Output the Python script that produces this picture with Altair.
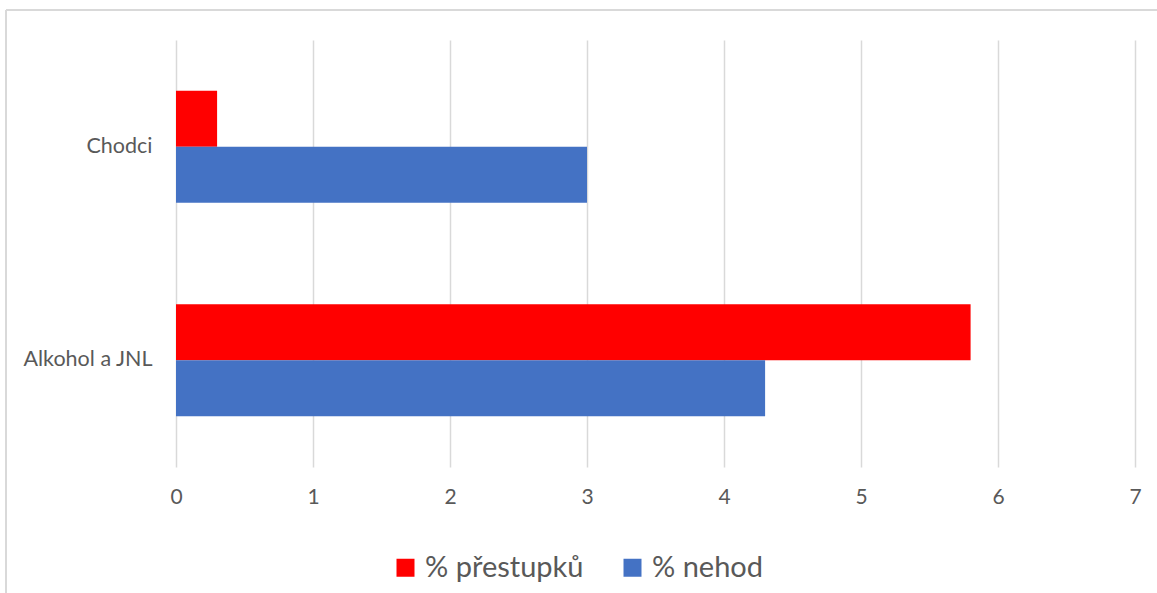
import altair as alt
import pandas as pd

categories = ["Chodci", "Alkohol a JNL"]
series = ["% přestupků", "% nehod"]
prestupky = [0.3, 5.8]
nehody = [3.0, 4.3]
colors = ["#FF0000", "#4472C4"]

rows = []
for i, c in enumerate(categories):
    rows.append({"kategorie": c, "serie": series[0], "hodnota": prestupky[i]})
    rows.append({"kategorie": c, "serie": series[1], "hodnota": nehody[i]})
df = pd.DataFrame(rows)

FONT = "Lato"
GRAY = "#595959"

bars = alt.Chart(df).mark_bar().encode(
    x=alt.X("hodnota:Q",
            scale=alt.Scale(domain=[0, 7], nice=False),
            axis=alt.Axis(values=list(range(8)), title=None, domain=False, ticks=False,
                          grid=True, gridColor="#D9D9D9", gridWidth=1.5,
                          labelFlush=False,
                          labelFont=FONT, labelFontSize=21, labelColor=GRAY,
                          labelPadding=19)),
    y=alt.Y("kategorie:N", sort=categories,
            scale=alt.Scale(paddingInner=0.4754, paddingOuter=0.2377),
            axis=alt.Axis(title=None, domain=False, ticks=False, grid=False,
                          labelFont=FONT, labelFontSize=21.5, labelColor=GRAY,
                          labelPadding=24)),
    yOffset=alt.YOffset("serie:N", sort=series),
    color=alt.Color("serie:N", sort=series,
                    scale=alt.Scale(domain=series, range=colors),
                    legend=alt.Legend(title=None, orient="none", direction="horizontal",
                                      legendX=215, legendY=513,
                                      symbolType="square", symbolSize=324,
                                      symbolStrokeWidth=0, labelLimit=400,
                                      labelFont=FONT, labelFontSize=29, labelColor=GRAY,
                                      labelOffset=5, columnPadding=34)),
)

frame = pd.DataFrame({"a": [0]})
top_line = alt.Chart(frame).mark_rule(color="#D9D9D9", strokeWidth=2).encode(
    x=alt.value(-170), x2=alt.value(990), y=alt.value(-30))
left_line = alt.Chart(frame).mark_rule(color="#D9D9D9", strokeWidth=2).encode(
    x=alt.value(-170), y=alt.value(-30), y2=alt.value(560))

chart = alt.layer(bars, top_line, left_line).properties(
    width=959, height=427,
    autosize=alt.AutoSizeParams(type="none"),
    padding={"left": 176, "top": 40, "right": 22, "bottom": 126},
    background="white",
).configure_view(stroke=None)

chart.save("out.html", embed_options={"renderer": "svg", "actions": False})
